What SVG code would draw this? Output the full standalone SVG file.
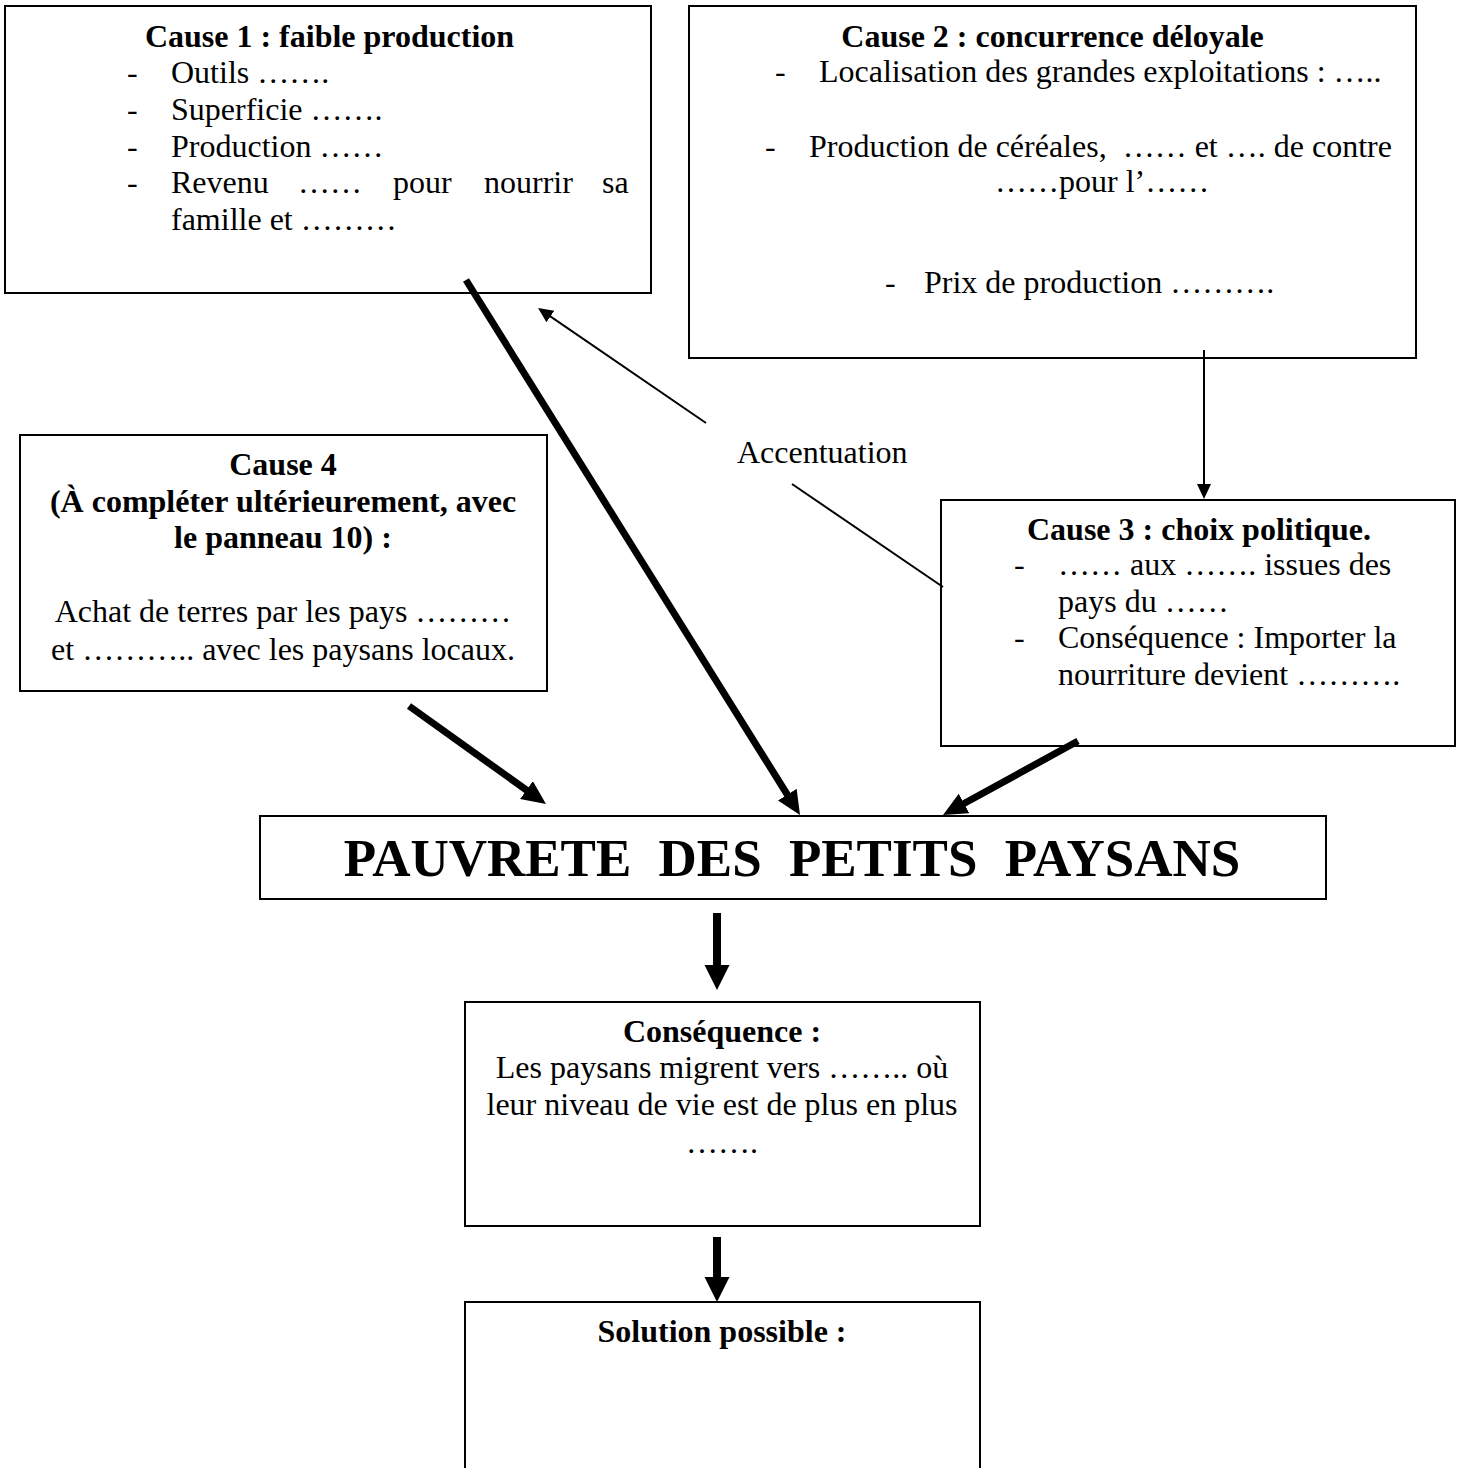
<svg xmlns="http://www.w3.org/2000/svg" width="1465" height="1468" viewBox="0 0 1465 1468">
<style>
.box{fill:#fff;stroke:#000;stroke-width:2}
text{font-family:"Liberation Serif","Times New Roman",serif;font-size:32px;fill:#000}
.b{font-weight:bold}
.c{text-anchor:middle}
.thin{stroke:#000;stroke-width:2;fill:none}
.thick{stroke:#000;stroke-width:7;fill:none}
.vthick{stroke:#000;stroke-width:8;fill:none}
</style>
<defs>
<marker id="ah-thin" markerUnits="userSpaceOnUse" markerWidth="16" markerHeight="16" refX="12" refY="7" orient="auto" viewBox="0 0 16 16">
<path d="M0,0 L15,7 L0,14 z" fill="#000"/>
</marker>
<marker id="ah-thick" markerUnits="userSpaceOnUse" markerWidth="26" markerHeight="24" refX="10" refY="11" orient="auto" viewBox="0 0 26 24">
<path d="M0,0 L24,11 L0,22 z" fill="#000"/>
</marker>
<marker id="ah-down" markerUnits="userSpaceOnUse" markerWidth="27" markerHeight="27" refX="10" refY="12.5" orient="auto" viewBox="0 0 27 27">
<path d="M0,0 L25,12.5 L0,25 z" fill="#000"/>
</marker>
</defs>

<g id="cause1">
<rect class="box" x="5" y="6" width="646" height="287"/>
<text class="b c" x="329.5" y="47">Cause 1 : faible production</text>
<text x="127" y="83">-</text><text x="171" y="83">Outils …….</text>
<text x="127" y="120">-</text><text x="171" y="120">Superficie …….</text>
<text x="127" y="157">-</text><text x="171" y="157">Production ……</text>
<text x="127" y="193">-</text>
<text y="193"><tspan x="171">Revenu</tspan><tspan x="298">……</tspan><tspan x="393">pour</tspan><tspan x="484">nourrir</tspan><tspan x="602">sa</tspan></text>
<text x="171" y="230">famille et ………</text>
</g>

<g id="cause2">
<rect class="box" x="689" y="6" width="727" height="352"/>
<text class="b c" x="1052.5" y="47">Cause 2 : concurrence déloyale</text>
<text x="775" y="82">-</text><text x="819" y="82">Localisation des grandes exploitations : …..</text>
<text x="765" y="157">-</text><text x="809" y="157" style="white-space:pre">Production de céréales,  …… et …. de contre</text>
<text x="995" y="192">……pour l’……</text>
<text x="885" y="293">-</text><text x="924" y="293">Prix de production ……….</text>
</g>

<g id="cause4">
<rect class="box" x="20" y="435" width="527" height="256"/>
<text class="b c" x="283" y="475">Cause 4</text>
<text class="b c" x="283" y="512">(À compléter ultérieurement, avec</text>
<text class="b c" x="283" y="548">le panneau 10) :</text>
<text class="c" x="283" y="622">Achat de terres par les pays ………</text>
<text class="c" x="283" y="660">et ……….. avec les paysans locaux.</text>
</g>

<g id="cause3">
<rect class="box" x="941" y="500" width="514" height="246"/>
<text class="b c" x="1199" y="540">Cause 3 : choix politique.</text>
<text x="1014" y="575">-</text><text x="1058" y="575">…… aux ……. issues des</text>
<text x="1058" y="612">pays du ……</text>
<text x="1014" y="648">-</text><text x="1058" y="648">Conséquence : Importer la</text>
<text x="1058" y="685">nourriture devient ……….</text>
</g>

<g id="pauvrete">
<rect class="box" x="260" y="816" width="1066" height="83"/>
<text class="b c" x="792" y="876" style="font-size:53px" word-spacing="14">PAUVRETE DES PETITS PAYSANS</text>
</g>

<g id="consequence">
<rect class="box" x="465" y="1002" width="515" height="224"/>
<text class="b c" x="722" y="1042">Conséquence :</text>
<text class="c" x="722" y="1078">Les paysans migrent vers …….. où</text>
<text class="c" x="722" y="1115">leur niveau de vie est de plus en plus</text>
<text class="c" x="722" y="1153">…….</text>
</g>

<g id="solution">
<rect class="box" x="465" y="1302" width="515" height="200"/>
<text class="b c" x="722" y="1342">Solution possible :</text>
</g>

<g id="connectors">
<line class="thin" x1="1204" y1="350" x2="1204" y2="496" marker-end="url(#ah-thin)"/>
<line class="thin" x1="706" y1="423" x2="540.5" y2="309.7" marker-end="url(#ah-thin)"/>
<line class="thin" x1="792" y1="484" x2="943" y2="587"/>
<text id="accentuation" x="737" y="463">Accentuation</text>
<line class="thick" x1="466" y1="280" x2="792.6" y2="803.1" marker-end="url(#ah-thick)"/>
<line class="thick" x1="409" y1="706" x2="534.6" y2="795.9" marker-end="url(#ah-thick)"/>
<line class="thick" x1="1078" y1="741" x2="955.3" y2="808.3" marker-end="url(#ah-thick)"/>
<line class="vthick" x1="717" y1="913" x2="717" y2="975" marker-end="url(#ah-down)"/>
<line class="vthick" x1="717" y1="1237" x2="717" y2="1287" marker-end="url(#ah-down)"/>
</g>
</svg>
